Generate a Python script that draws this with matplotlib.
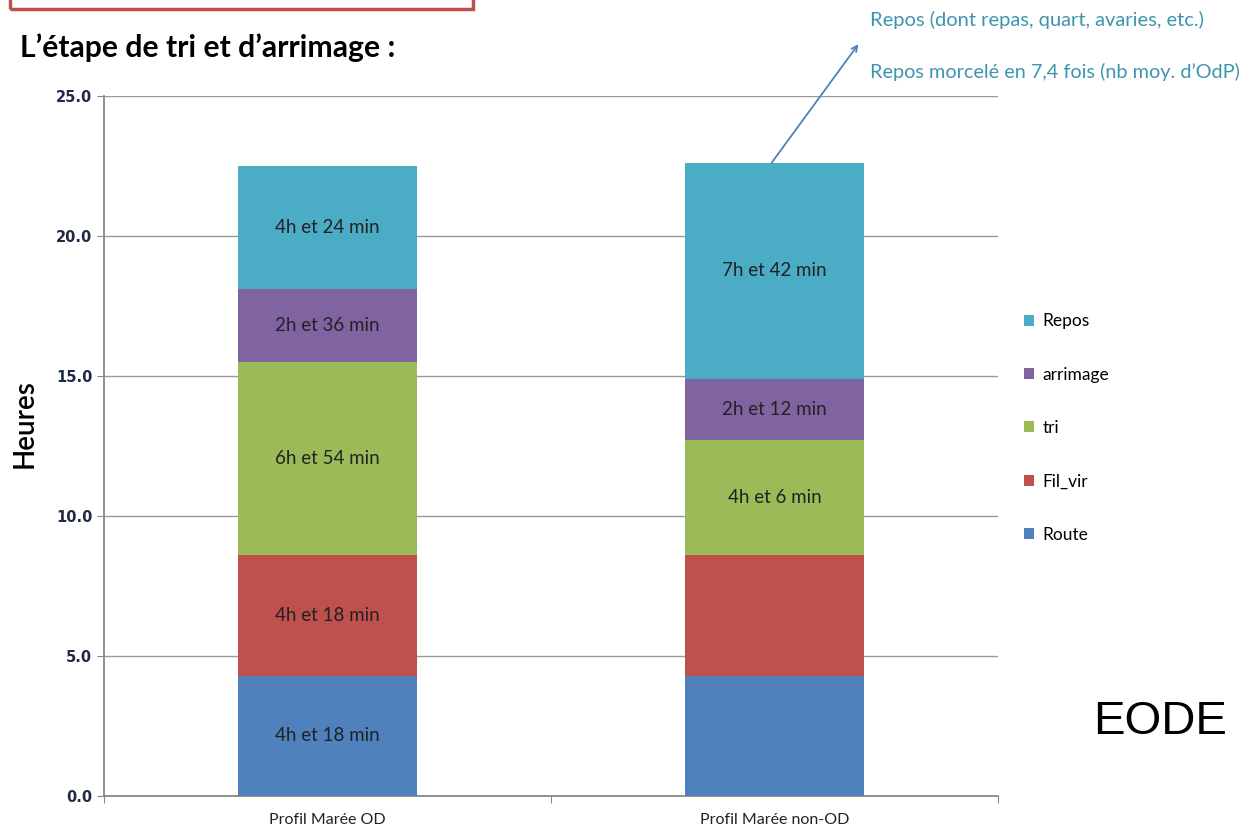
import matplotlib.pyplot as plt
from matplotlib.patches import Rectangle
import numpy as np

plt.rcParams['font.family'] = ['Lato', 'DejaVu Sans']

# données
profils = ['Profil Marée OD', 'Profil Marée non-OD']
etapes = ['Route', 'Fil_vir', 'tri', 'arrimage', 'Repos']
route = [4.3, 4.3]
fil_vir = [4.3, 4.3]
tri = [6.9, 4.1]
arrimage = [2.6, 2.2]
repos = [4.4, 7.7]
etiquettes = {
    'Route': ['4h et 18 min', ''],
    'Fil_vir': ['4h et 18 min', ''],
    'tri': ['6h et 54 min', '4h et 6 min'],
    'arrimage': ['2h et 36 min', '2h et 12 min'],
    'Repos': ['4h et 24 min', '7h et 42 min'],
}
couleurs = ['#4F81BD', '#C0504D', '#9BBB59', '#8064A2', '#4BACC6']

fig = plt.figure(figsize=(12.47, 8.3), dpi=100)
ax = fig.add_axes([104 / 1247, 34 / 830, 894 / 1247, 700 / 830])

x = np.arange(len(profils))
bas = np.zeros(len(profils))
for nom, vals, c in zip(etapes, [route, fil_vir, tri, arrimage, repos], couleurs):
    vals = np.array(vals)
    ax.bar(x, vals, width=0.4, bottom=bas, color=c, label=nom, zorder=3)
    for i in range(len(profils)):
        if etiquettes[nom][i]:
            ax.text(x[i], bas[i] + vals[i] / 2, etiquettes[nom][i], ha='center', va='center',
                    fontsize=13.5, color='#222222', zorder=4)
    bas += vals

ax.set_xlim(-0.5, 1.5)
ax.set_ylim(0, 25)
ax.set_yticks(np.arange(0, 26, 5))
ax.set_yticklabels(['%.1f' % v for v in np.arange(0, 26, 5)], fontsize=10.5, fontweight='bold',
                   color='#1F2A44', family=['DejaVu Sans'])
ax.set_xticks([-0.5, 0.5, 1.5])
ax.set_xticklabels([])
ax.set_xticks(x, minor=True)
ax.set_xticklabels(profils, minor=True, fontsize=11.5, color='#222222')
ax.tick_params(axis='x', which='minor', length=0, pad=12)
ax.tick_params(axis='x', which='major', length=5, color='#888888')
ax.tick_params(axis='y', length=5, color='#888888')
ax.grid(axis='y', color='#999999', linewidth=1, zorder=0)
for s in ['top', 'right']:
    ax.spines[s].set_visible(False)
ax.spines['left'].set_color('#888888')
ax.spines['bottom'].set_color('#888888')
ax.spines['left'].set_linewidth(1.3)
ax.spines['bottom'].set_linewidth(1.3)
ax.set_ylabel('Heures', fontsize=20, fontweight='semibold')
ax.yaxis.set_label_coords(-66 / 894, (796 - 424) / 700)

h, l = ax.get_legend_handles_labels()
fig.legend(h[::-1], l[::-1], loc='center left', bbox_to_anchor=(1008 / 1247, 1 - 428 / 830),
           frameon=False, fontsize=12.5, labelspacing=2.15, handlelength=0.6, handleheight=0.6,
           handletextpad=0.5)

# titre et encadré
fig.text(20 / 1247, 1 - 48 / 830, 'L\u2019étape de tri et d\u2019arrimage :', fontsize=21.7,
         fontweight='bold', va='center', ha='left')
fig.patches.append(Rectangle((10 / 1247, 1 - 9 / 830), 463 / 1247, 30 / 830, transform=fig.transFigure,
                             fill=False, edgecolor='#C0504D', linewidth=2.5))

# annotation repos
ax.annotate('', xy=(860 / 1247, 1 - 42 / 830), xycoords='figure fraction',
            xytext=(770 / 1247, 1 - 165 / 830), textcoords='figure fraction',
            arrowprops=dict(arrowstyle='->', color='#4F81BD', lw=1.3), annotation_clip=False)
fig.text(870 / 1247, 1 - 20 / 830, 'Repos (dont repas, quart, avaries, etc.)', fontsize=14.5,
         color='#3D95AE', va='center')
fig.text(870 / 1247, 1 - 72 / 830, 'Repos morcelé en 7,4 fois (nb moy. d\u2019OdP)', fontsize=14.3,
         color='#3D95AE', va='center')

fig.text(1093 / 1247, 1 - 722 / 830, 'EODE', fontsize=34, family=['Liberation Sans'], va='center')

fig.savefig('out.png', dpi=100)
